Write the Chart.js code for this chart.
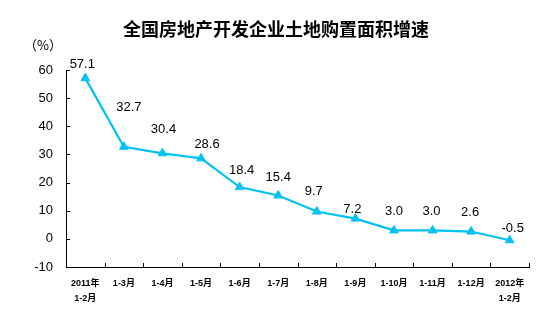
<!DOCTYPE html>
<html>
<head>
<meta charset="utf-8">
<script src="https://cdn.jsdelivr.net/npm/chart.js@4/dist/chart.umd.min.js"></script>
<style>
  html, body { margin: 0; padding: 0; background: #fff; }
  #wrap { position: relative; width: 552px; height: 324px; }
</style>
</head>
<body>
<div id="wrap"><canvas id="chart" width="552" height="324"></canvas></div>
<script>
const title = "全国房地产开发企业土地购置面积增速";
const unitLabel = "（%）";
const months = [
  ["2011年", "1-2月"], "1-3月", "1-4月", "1-5月", "1-6月", "1-7月",
  "1-8月", "1-9月", "1-10月", "1-11月", "1-12月", ["2012年", "1-2月"]
];
const growth = [57.1, 32.7, 30.4, 28.6, 18.4, 15.4, 9.7, 7.2, 3.0, 3.0, 2.6, -0.5];
const yTicks = [-10, 0, 10, 20, 30, 40, 50, 60];

// how far each value label sits above its point (px), and a sideways nudge
const labelLift = [14, 39, 24, 14, 17, 18, 20, 9, 19, 19, 19, 12];
const labelNudge = [-3, 5, 1, 6, 2, 0, -3, -3, 0, -1, -1, 3];

const lineColor = "#00c3f3";
const latin = "'Liberation Sans', Arial, 'Noto Sans CJK SC', sans-serif";
const cjk = "'Noto Sans CJK SC', 'Liberation Sans', sans-serif";

const decorations = {
  id: "decorations",
  afterDraw(chart) {
    const ctx = chart.ctx;
    const x = chart.scales.x;
    const y = chart.scales.y;
    const area = chart.chartArea;
    ctx.save();

    // title
    ctx.fillStyle = "#000";
    ctx.font = "bold 18px " + cjk;
    ctx.textAlign = "center";
    ctx.textBaseline = "middle";
    ctx.fillText(title, 276, 29);

    // unit
    ctx.font = "13px " + cjk;
    ctx.fillText(unitLabel, 43, 45);

    // inward tick marks
    ctx.strokeStyle = "#000";
    ctx.lineWidth = 1;
    ctx.beginPath();
    yTicks.forEach(v => {
      const py = Math.round(y.getPixelForValue(v)) + 0.5;
      ctx.moveTo(area.left, py);
      ctx.lineTo(area.left + 4, py);
    });
    const step = x.getPixelForValue(1) - x.getPixelForValue(0);
    for (let i = 0; i < months.length; i++) {
      const px = Math.round(x.getPixelForValue(i) + step / 2) + 0.5;
      ctx.moveTo(px, area.bottom);
      ctx.lineTo(px, area.bottom - 4);
    }
    ctx.stroke();

    // value labels
    ctx.font = "13px " + latin;
    ctx.fillStyle = "#000";
    const meta = chart.getDatasetMeta(0);
    meta.data.forEach((pt, i) => {
      ctx.fillText(growth[i].toFixed(1), pt.x + labelNudge[i], pt.y - labelLift[i]);
    });
    ctx.restore();
  }
};

new Chart(document.getElementById("chart"), {
  type: "line",
  data: {
    labels: months,
    datasets: [{
      data: growth,
      borderColor: lineColor,
      backgroundColor: lineColor,
      borderWidth: 2.2,
      pointStyle: "triangle",
      pointRadius: 5,
      pointBorderWidth: 1,
      pointHoverRadius: 5,
      tension: 0
    }]
  },
  options: {
    responsive: false,
    animation: false,
    events: [],
    layout: { padding: { top: 70, right: 23, left: 0, bottom: 0 } },
    plugins: { legend: { display: false }, tooltip: { enabled: false }, title: { display: false } },
    scales: {
      x: {
        offset: true,
        grid: { display: false, drawTicks: false },
        border: { color: "#000", width: 1 },
        ticks: {
          color: "#000",
          font: { family: latin, size: 9, weight: "bold", lineHeight: 1.65 },
          padding: 9,
          maxRotation: 0,
          autoSkip: false
        },
        afterFit(scale) { scale.height = 324 - 267; }
      },
      y: {
        min: -10,
        max: 60,
        grid: { display: false, drawTicks: false },
        border: { color: "#000", width: 1 },
        ticks: {
          stepSize: 10,
          color: "#000",
          font: { family: latin, size: 13 },
          padding: 13
        },
        afterFit(scale) { scale.width = 66; }
      }
    }
  },
  plugins: [decorations]
});
</script>
</body>
</html>
